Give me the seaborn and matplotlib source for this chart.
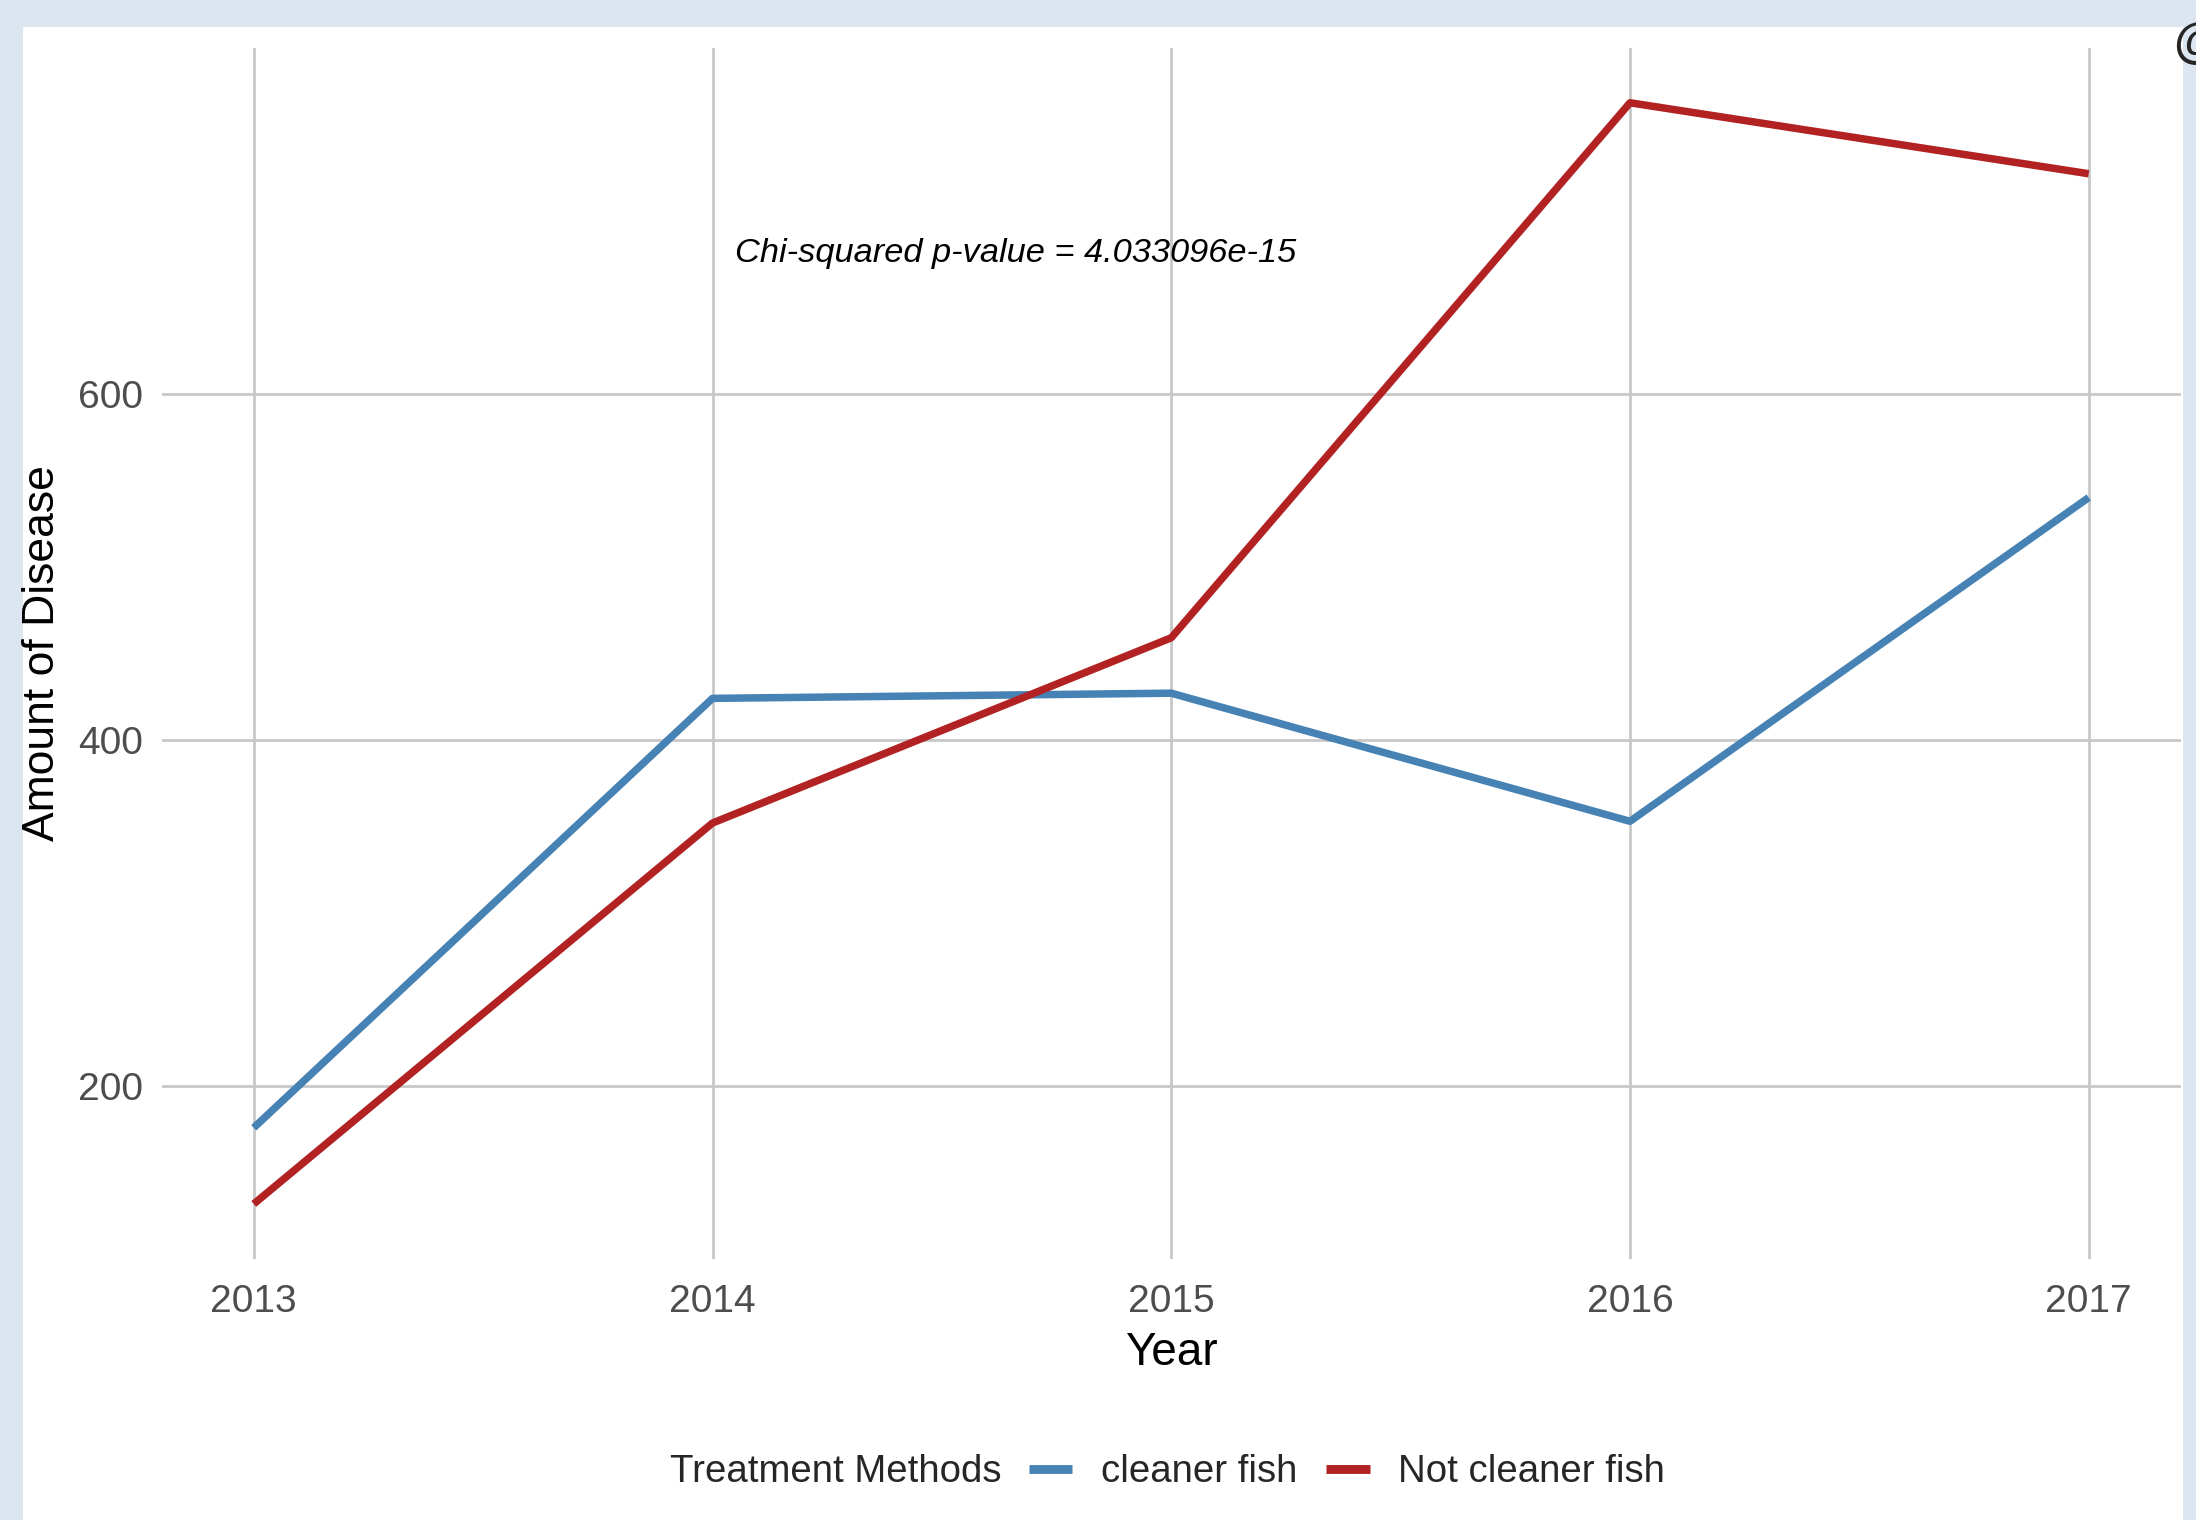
import numpy as np
import pandas as pd
import matplotlib.pyplot as plt
import seaborn as sns
from matplotlib.patches import Rectangle
from matplotlib.lines import Line2D

# datos
years = [2013, 2014, 2015, 2016, 2017]
cleaner_fish = [176, 424, 427, 353, 540]
not_cleaner_fish = [132, 352, 459, 768, 727]
groups = ['cleaner fish', 'Not cleaner fish']
colors = ['#4682B4', '#B22222']
y_ticks = [200, 400, 600]
p_label = 'Chi-squared p-value = 4.033096e-15'

data = pd.DataFrame({
    'Year': years * 2,
    'Disease': cleaner_fish + not_cleaner_fish,
    'Treatment': [groups[0]] * len(years) + [groups[1]] * len(years),
})

sns.set_theme(style='white')
plt.rcParams['font.family'] = ['Liberation Sans', 'DejaVu Sans']

fig = plt.figure(figsize=(10.98, 7.6), dpi=200)
fig.patch.set_facecolor('#DCE6F1')
# panel blanco de la captura
fig.patches.append(Rectangle((23 / 2196, 0), (2183 - 23) / 2196, 1 - 27 / 1520,
                             transform=fig.transFigure, facecolor='white',
                             edgecolor='none', zorder=-5))

ax = fig.add_axes([162 / 2196, 1 - 1259 / 1520, (2180.5 - 162) / 2196, (1259 - 47.7) / 1520])
ax.set_facecolor('none')
ax.set_zorder(2)

sns.lineplot(data=data, x='Year', y='Disease', hue='Treatment', hue_order=groups,
             palette=colors, linewidth=2.7, ax=ax, legend=False, zorder=3)
for ln in ax.lines:
    ln.set_solid_capstyle('butt')

vals = cleaner_fish + not_cleaner_fish
rng = max(vals) - min(vals)
ax.set_ylim(min(vals) - 0.05 * rng, max(vals) + 0.05 * rng)
ax.set_xlim(years[0] - 0.2, years[-1] + 0.2)
ax.set_xticks(years)
ax.set_xticklabels([str(y) for y in years])
ax.set_yticks(y_ticks)

ax.grid(True, color='#C8C8C8', linewidth=1.0)
ax.set_axisbelow(True)
for s in ax.spines.values():
    s.set_visible(False)
ax.tick_params(axis='both', length=0, labelsize=14, labelcolor='#4D4D4D')
ax.tick_params(axis='x', pad=9)
ax.tick_params(axis='y', pad=7)

ax.set_xlabel('Year', fontsize=16.5, color='black')
ax.xaxis.label.set_va('center')
ax.xaxis.set_label_coords(0.5, -0.078)
ax.set_ylabel('Amount of Disease', fontsize=16, color='black')
ax.yaxis.label.set_va('center')
ax.yaxis.set_label_coords(-0.059, 0.5)

ax.text(2014.66, 681, p_label, fontsize=12.4, style='italic', ha='center', va='center',
        color='black')

# leyenda abajo
handles = [Line2D([0], [0], color=c, linewidth=3.2, solid_capstyle='butt') for c in colors]
fig.text(670 / 2196, 1 - 1472 / 1520, 'Treatment Methods', fontsize=13.8, ha='left', va='center')
fig.legend(handles, groups, loc='center left', bbox_to_anchor=(1029 / 2196, 1 - 1472 / 1520),
           ncol=2, frameon=False, fontsize=13.8, handlelength=1.13, handletextpad=0.75,
           columnspacing=0.75, borderpad=0, borderaxespad=0)

# simbolo cortado arriba a la derecha
fig.text(2173 / 2196, 1 - 45 / 1520, '@', fontsize=18, fontweight='bold', ha='left', va='center')

plt.savefig('out.png', dpi=200, facecolor=fig.get_facecolor())
